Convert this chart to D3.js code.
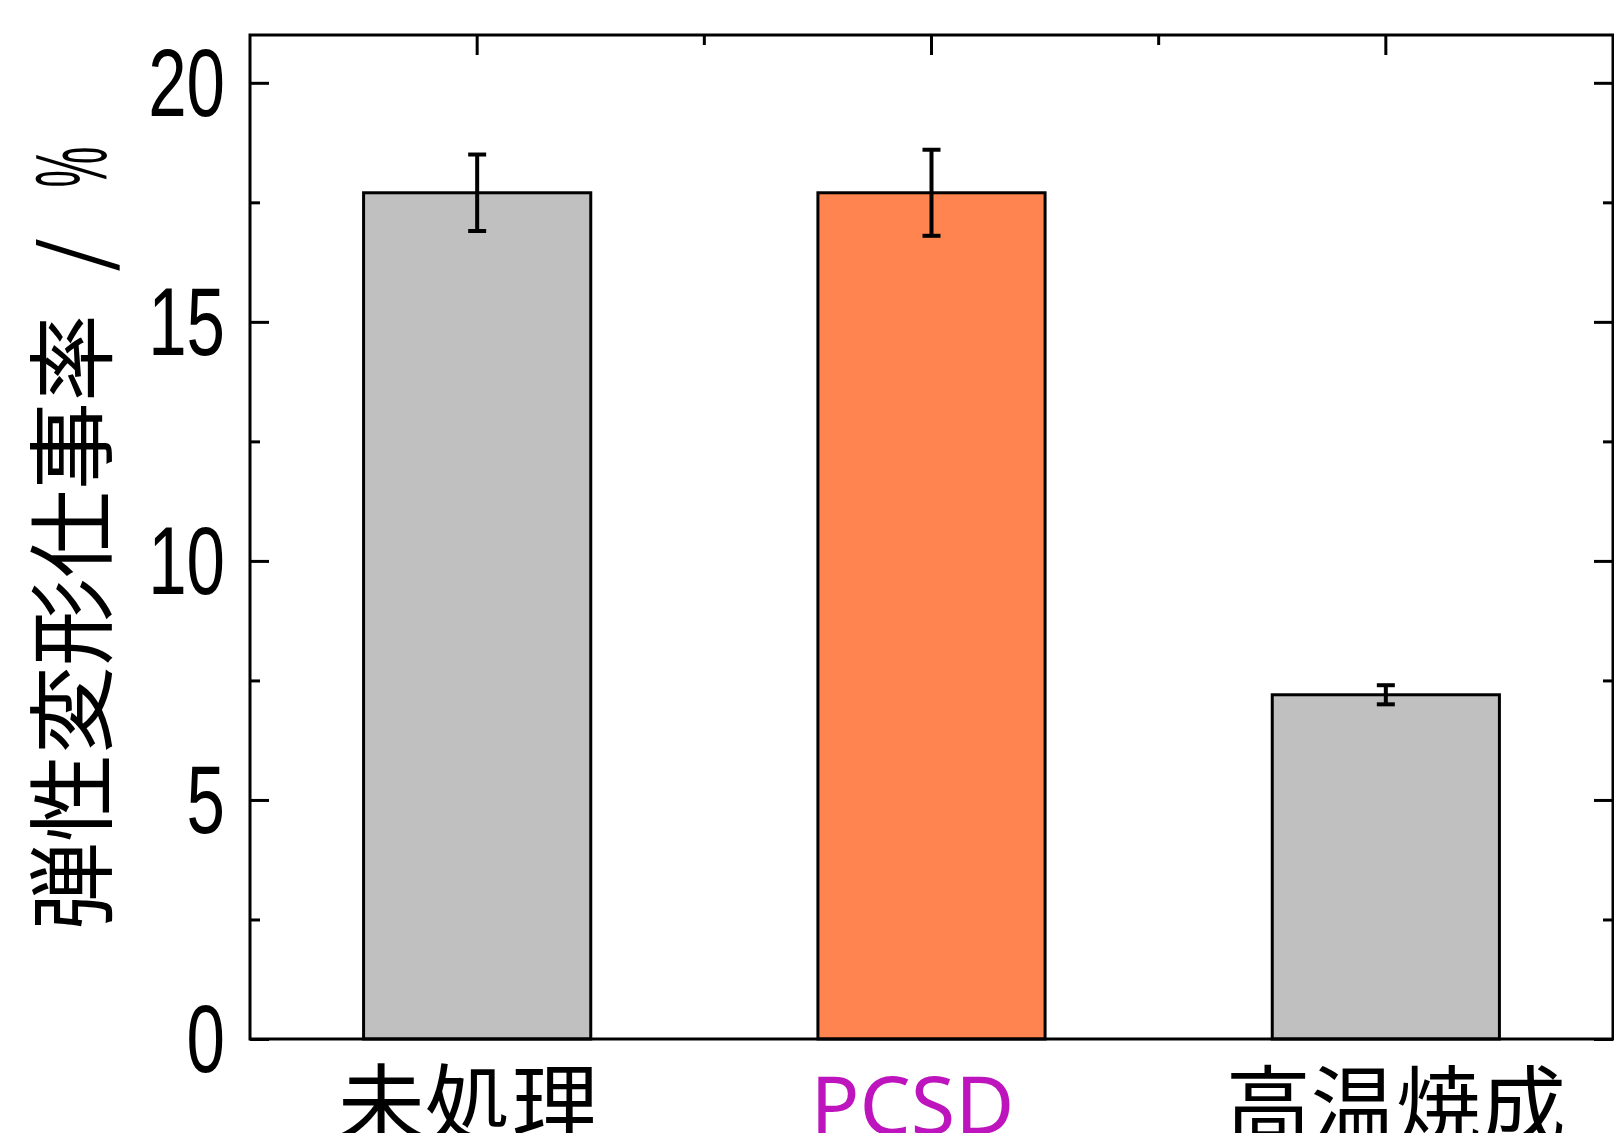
<!DOCTYPE html>
<html>
<head>
<meta charset="utf-8">
<script src="https://cdn.jsdelivr.net/npm/d3@7"></script>
<style>
  html, body { margin: 0; padding: 0; background: #fff; }
  svg { display: block; }
</style>
</head>
<body>
<svg id="chart" width="1614" height="1133"></svg>
<script>
// Elastic deformation work ratio by treatment
const categories = ["未処理", "PCSD", "高温焼成"];
const values = [17.7, 17.7, 7.2];
const errors = [0.8, 0.9, 0.2];
const barColors = ["#c0c0c0", "#ff844f", "#c0c0c0"];
const labelColors = ["#000000", "#be14be", "#000000"];
const majorTicks = [0, 5, 10, 15, 20];
const minorTicks = [2.5, 7.5, 12.5, 17.5];
const yLabelText = "弾性変形仕事率";
const yUnitText = ["/", "%"];

const svg = d3.select("#chart");
const plotLeft = 250, plotRight = 1613, plotTop = 35, plotBottom = 1039;

const x = d3.scaleBand()
  .domain(categories)
  .range([plotLeft, plotRight])
  .paddingInner(0.5)
  .paddingOuter(0.25);

const y = d3.scaleLinear().domain([0, 21]).range([plotBottom, plotTop]);

// Bars
svg.append("g").selectAll("rect")
  .data(categories)
  .join("rect")
  .attr("x", d => x(d))
  .attr("y", (d, i) => y(values[i]))
  .attr("width", x.bandwidth())
  .attr("height", (d, i) => y(0) - y(values[i]))
  .attr("fill", (d, i) => barColors[i])
  .attr("stroke", "#000")
  .attr("stroke-width", 3);

// Error bars
const eb = svg.append("g").attr("stroke", "#000").attr("stroke-width", 4);
categories.forEach((c, i) => {
  const cx = x(c) + x.bandwidth() / 2;
  const hi = y(values[i] + errors[i]);
  const lo = y(values[i] - errors[i]);
  eb.append("line").attr("x1", cx).attr("x2", cx).attr("y1", hi).attr("y2", lo);
  eb.append("line").attr("x1", cx - 9).attr("x2", cx + 9).attr("y1", hi).attr("y2", hi);
  eb.append("line").attr("x1", cx - 9).attr("x2", cx + 9).attr("y1", lo).attr("y2", lo);
});

// Inward ticks on left and right
function styleAxis(g) {
  g.select(".domain").remove();
  g.selectAll(".tick line").attr("stroke", "#000").attr("stroke-width", 3);
  g.selectAll(".tick text").remove();
}
svg.append("g").attr("transform", `translate(${plotLeft},0)`)
  .call(d3.axisLeft(y).tickValues(majorTicks).tickSize(-19).tickFormat("")).call(styleAxis);
svg.append("g").attr("transform", `translate(${plotLeft},0)`)
  .call(d3.axisLeft(y).tickValues(minorTicks).tickSize(-10).tickFormat("")).call(styleAxis);
svg.append("g").attr("transform", `translate(${plotRight},0)`)
  .call(d3.axisRight(y).tickValues(majorTicks).tickSize(-19).tickFormat("")).call(styleAxis);
svg.append("g").attr("transform", `translate(${plotRight},0)`)
  .call(d3.axisRight(y).tickValues(minorTicks).tickSize(-10).tickFormat("")).call(styleAxis);

// Top ticks: long at category centres, short between categories
const topTicks = svg.append("g").attr("stroke", "#000").attr("stroke-width", 3);
categories.forEach((c, i) => {
  const cx = x(c) + x.bandwidth() / 2;
  topTicks.append("line").attr("x1", cx).attr("x2", cx).attr("y1", plotTop).attr("y2", plotTop + 20);
  if (i > 0) {
    const bx = cx - x.step() / 2;
    topTicks.append("line").attr("x1", bx).attr("x2", bx).attr("y1", plotTop).attr("y2", plotTop + 10);
  }
});

// Frame
svg.append("rect")
  .attr("x", plotLeft).attr("y", plotTop)
  .attr("width", plotRight - plotLeft).attr("height", plotBottom - plotTop)
  .attr("fill", "none").attr("stroke", "#000").attr("stroke-width", 3);

// Y tick labels (condensed digits)
svg.append("g").selectAll("text")
  .data(majorTicks)
  .join("text")
  .attr("transform", d => `translate(225,${y(d) + 33}) scale(0.72,1)`)
  .attr("text-anchor", "end")
  .attr("font-family", "'Liberation Sans', Arial, sans-serif")
  .attr("font-size", 96)
  .attr("fill", "#000")
  .text(d => d);

// X category labels, nudged sideways as set in the figure
const labelNudge = [-9, -19, 10];
svg.append("g").selectAll("text")
  .data(categories)
  .join("text")
  .attr("x", (d, i) => x(d) + x.bandwidth() / 2 + labelNudge[i])
  .attr("y", (d, i) => i === 1 ? 1134 : 1137)
  .attr("text-anchor", "middle")
  .attr("font-family", (d, i) => i === 1 ? "'Noto Sans', 'Open Sans', sans-serif" : "'Noto Sans CJK JP', sans-serif")
  .attr("font-size", (d, i) => i === 1 ? 81 : (i === 2 ? 85 : 87))
  .attr("fill", (d, i) => labelColors[i])
  .text(d => d);

// Y axis title, rotated
const yl = svg.append("g").attr("transform", "rotate(-90)");
yl.append("text")
  .attr("x", -930).attr("y", 104)
  .attr("font-family", "'Noto Sans CJK JP', sans-serif")
  .attr("font-size", 88)
  .attr("fill", "#000")
  .text(yLabelText);
yl.append("text")
  .attr("x", -255).attr("y", 104)
  .attr("text-anchor", "middle")
  .attr("font-family", "'Noto Sans CJK JP', sans-serif")
  .attr("font-size", 86)
  .attr("fill", "#000")
  .text(yUnitText[0]);
yl.append("text")
  .attr("transform", "translate(-167,106) scale(0.45,1)")
  .attr("text-anchor", "middle")
  .attr("font-family", "'Liberation Sans', Arial, sans-serif")
  .attr("font-size", 102)
  .attr("fill", "#000")
  .text(yUnitText[1]);
</script>
</body>
</html>
